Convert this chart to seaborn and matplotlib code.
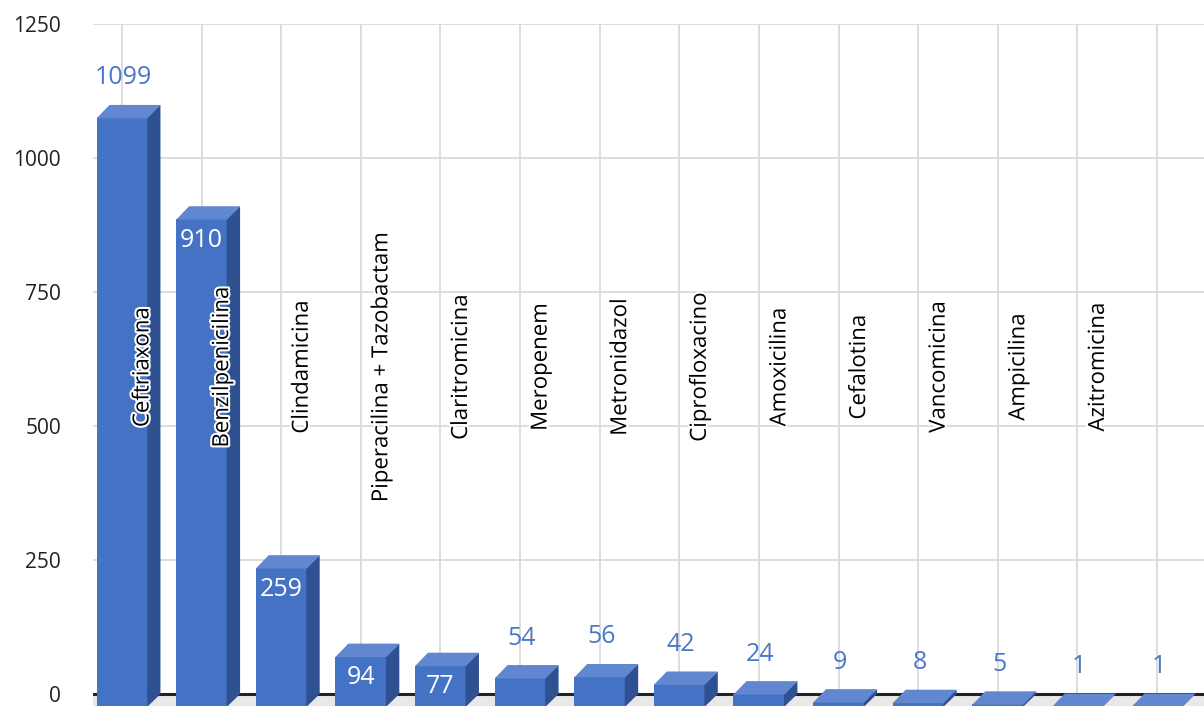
import matplotlib
matplotlib.use("Agg")
import matplotlib.pyplot as plt
import matplotlib.patheffects as pe
from matplotlib.patches import Polygon
import seaborn as sns
import pandas as pd

categories = ["Ceftriaxona", "Benzilpenicilina", "Clindamicina", "Piperacilina + Tazobactam",
              "Claritromicina", "Meropenem", "Metronidazol", "Ciprofloxacino", "Amoxicilina",
              "Cefalotina", "Vancomicina", "Ampicilina", "Azitromicina", ""]
values = [1099, 910, 259, 94, 77, 54, 56, 42, 24, 9, 8, 5, 1, 1]
inside_label = [False, True, True, True, True, False, False, False, False, False, False, False, False, False]
yticks = [0, 250, 500, 750, 1000, 1250]

FRONT = "#4472C4"
SIDE = "#2F5091"
TOP = "#6087D0"
LABEL_BLUE = "#4B77C6"

sns.set_theme(style="white")
plt.rcParams["font.family"] = ["Open Sans", "DejaVu Sans"]

W, H = 1204, 706
fig = plt.figure(figsize=(W / 100, H / 100), dpi=100)
ax_left, ax_right, ax_top, ax_bottom = 93, 1204, 24, 706
ax = fig.add_axes([ax_left / W, 1 - ax_bottom / H, (ax_right - ax_left) / W, (ax_bottom - ax_top) / H])

df = pd.DataFrame({"cat": categories, "val": values})
sns.barplot(data=df, x="cat", y="val", order=categories, color=FRONT, width=0.64,
            saturation=1, ax=ax, zorder=3, edgecolor="none", linewidth=0)

px_per_x = 79.6
ymin, ymax = -22.4, 1250
xmin, xmax = -0.364, 13.59
ax.set_xlim(xmin, xmax)
ax.set_ylim(ymin, ymax)
px_per_y = (ax_bottom - ax_top) / (ymax - ymin)
depth_px = 13
dx = depth_px / px_per_x
dy = depth_px / px_per_y

# grid
ax.set_yticks(yticks)
ax.set_yticklabels([str(t) for t in yticks], fontsize=15, color="#222222")
ax.set_xticks(range(len(categories)))
ax.set_xticklabels([])
ax.tick_params(axis="both", length=0)
ax.tick_params(axis="y", pad=23)
ax.grid(True, axis="both", color="#DADADA", linewidth=1.3)
ax.set_axisbelow(True)
for s in ax.spines.values():
    s.set_visible(False)
ax.set_xlabel("")
ax.set_ylabel("")

# floor
floor = Polygon([(xmin, 0), (xmax + dx, 0), (xmax, -dy), (xmin - dx, -dy)],
                closed=True, facecolor="#E8E8E8", edgecolor="none", zorder=1)
ax.add_patch(floor)
ax.plot([xmin, xmax], [0, 0], color="#222222", linewidth=2.2, zorder=1.5)

# 3D faces
bars = [p for p in ax.patches if p is not floor]
for p in bars:
    x0, w, h = p.get_x(), p.get_width(), p.get_height()
    p.set_y(-dy)
    side = Polygon([(x0 + w - 0.005, -dy), (x0 + w - 0.005, h - dy), (x0 + w + dx, h), (x0 + w + dx, 0)],
                   closed=True, facecolor=SIDE, edgecolor="none", zorder=3)
    top = Polygon([(x0, h - dy - 0.8), (x0 + w, h - dy - 0.8), (x0 + w + dx, h), (x0 + dx, h)],
                  closed=True, facecolor=TOP, edgecolor="none", zorder=3.1)
    ax.add_patch(side)
    ax.add_patch(top)

# value labels
for i, (v, ins) in enumerate(zip(values, inside_label)):
    if ins:
        ax.text(i, v - dy - 21 / px_per_y, str(v), ha="center", va="center",
                fontsize=18, color="white", zorder=5)
    else:
        ax.text(i + 0.02, v + 27 / px_per_y, str(v), ha="center", va="center",
                fontsize=18, color=LABEL_BLUE, zorder=5)

# category labels
for i, c in enumerate(categories):
    if not c:
        continue
    ax.text(i + 21 / px_per_x, 610, c, rotation=90, ha="center", va="center",
            fontsize=16, color="black", zorder=6,
            path_effects=[pe.withStroke(linewidth=3, foreground="white")])

fig.savefig("out.png", dpi=100)
